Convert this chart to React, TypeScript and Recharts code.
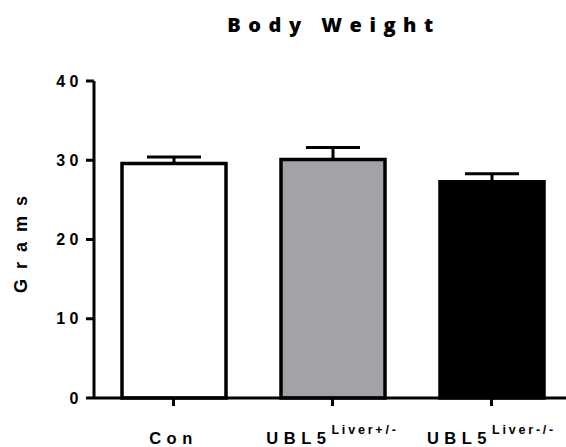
import React from "react";
import { BarChart, Bar, XAxis, YAxis, Cell, ErrorBar, Label } from "recharts";

const groups = ["Con", "UBL5 Liver+/-", "UBL5 Liver-/-"];
const groupBase = ["Con", "UBL5", "UBL5"];
const groupSup = ["", "Liver+/-", "Liver-/-"];
const means = [29.6, 30.1, 27.3];
const sems = [0.8, 1.5, 1.0];
const fills = ["#ffffff", "#a3a2a7", "#000000"];
const yTicks = [0, 10, 20, 30, 40];

const data = groups.map((name, i) => ({
  name,
  value: means[i],
  err: [0, sems[i]],
}));

const FONT = "'Liberation Sans', Arial, sans-serif";

const CategoryTick = (props: any) => {
  const { x, y, payload } = props;
  const i = payload.index;
  return (
    <text
      x={x}
      y={y}
      dy={38}
      textAnchor="middle"
      fontFamily={FONT}
      fontWeight="bold"
      fill="#000"
    >
      <tspan fontSize={16.5} style={{ letterSpacing: 5.5 }}>
        {groupBase[i]}
      </tspan>
      {groupSup[i] && (
        <tspan dy={-10} fontSize={12.5} style={{ letterSpacing: 2.8 }}>
          {groupSup[i]}
        </tspan>
      )}
    </text>
  );
};

export default function App() {
  return (
    <div
      style={{
        position: "fixed",
        left: 0,
        top: 0,
        width: 566,
        height: 447,
        overflow: "hidden",
        background: "#fff",
      }}
    >
      <div
        style={{
          position: "absolute",
          left: 0,
          top: 11,
          width: 668,
          textAlign: "center",
          fontFamily: "'Open Sans', sans-serif",
          fontWeight: 800,
          fontSize: 20,
          letterSpacing: 7.5,
          color: "#000",
        }}
      >
        Body Weight
      </div>
      <BarChart
        width={571}
        height={447}
        data={data}
        margin={{ top: 81, right: 0, bottom: 0, left: 0 }}
        barSize={104}
      >
        <XAxis
          dataKey="name"
          height={49}
          axisLine={{ stroke: "#000", strokeWidth: 3 }}
          tickLine={{ stroke: "#000", strokeWidth: 3 }}
          tickSize={8}
          tickMargin={0}
          tick={<CategoryTick />}
          interval={0}
        />
        <YAxis
          width={94}
          domain={[0, 40]}
          ticks={yTicks}
          axisLine={{ stroke: "#000", strokeWidth: 3 }}
          tickLine={{ stroke: "#000", strokeWidth: 3 }}
          tickSize={8}
          tickMargin={3}
          tick={{
            fill: "#000",
            fontFamily: FONT,
            fontWeight: "bold",
            fontSize: 16,
            style: { letterSpacing: 4.5 },
          }}
        >
          <Label
            value="Grams"
            angle={-90}
            position="insideLeft"
            offset={21}
            textAnchor="middle"
            style={{
              fontFamily: FONT,
              fontWeight: "bold",
              fontSize: 18,
              letterSpacing: 10,
              fill: "#000",
            }}
          />
        </YAxis>
        <Bar
          dataKey="value"
          stroke="#000"
          strokeWidth={3.5}
          isAnimationActive={false}
        >
          {data.map((d, i) => (
            <Cell key={d.name} fill={fills[i]} />
          ))}
          <ErrorBar
            dataKey="err"
            width={27}
            stroke="#000"
            strokeWidth={3}
            direction="y"
            isAnimationActive={false}
          />
        </Bar>
      </BarChart>
    </div>
  );
}
